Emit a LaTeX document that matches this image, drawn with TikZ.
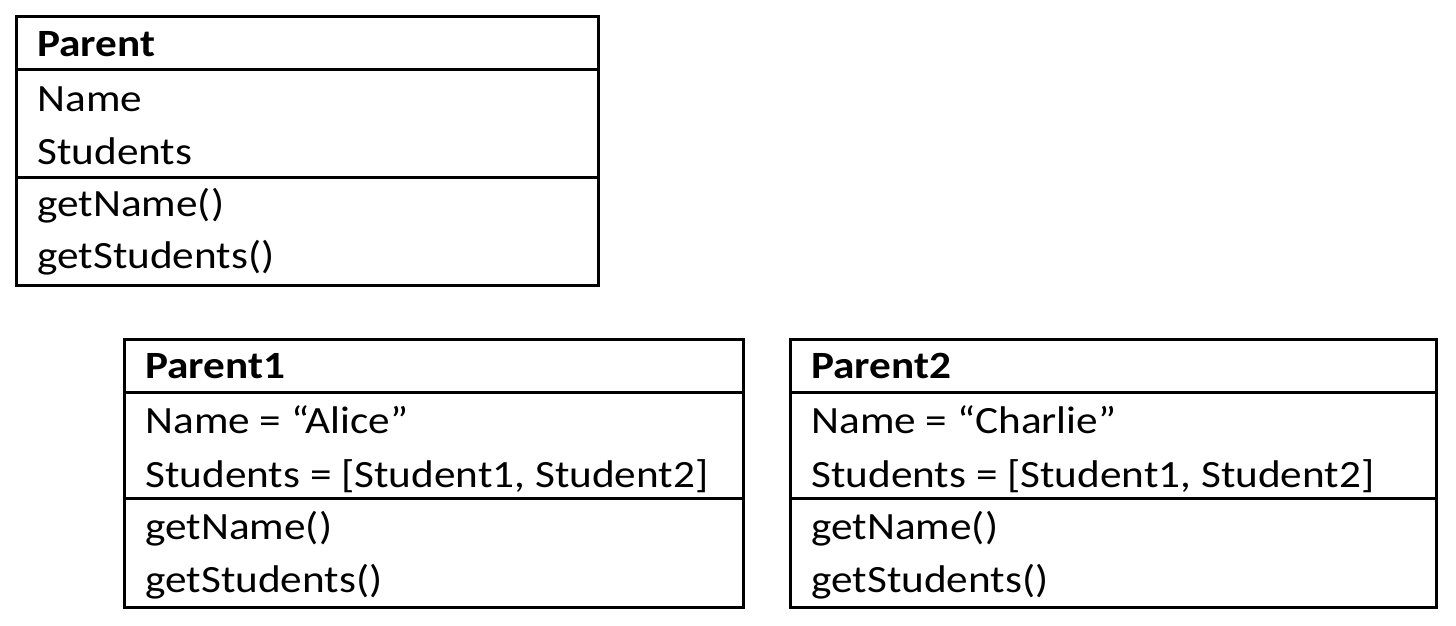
\documentclass[tikz,border=0pt]{standalone}
\usepackage{fontspec}
\setmainfont{Carlito}[FakeStretch=1.12]
\begin{document}
\begin{tikzpicture}[x=0.5pt,y=-0.5pt,
  umlbox/.style={draw=black, line width=1.5pt, rectangle, inner sep=0pt, anchor=north west},
  sepline/.style={draw=black, line width=1.5pt},
  txt/.style={anchor=base west, inner sep=0pt, font=\fontsize{19.3pt}{23pt}\selectfont},
  ttl/.style={txt, font=\fontsize{19.3pt}{23pt}\selectfont\bfseries}]
\useasboundingbox (0,0) rectangle (1456,626);
% Parent class
\node[umlbox, minimum width=291pt, minimum height=134.5pt] (parent) at (15,15) {};
\draw[sepline] (parent.west |- 0,70) -- (parent.east |- 0,70);
\draw[sepline] (parent.west |- 0,177) -- (parent.east |- 0,177);
\node[ttl] (pT) at (37,57) {Parent};
\node[txt] (pA1) at (37,112) {Name};
\node[txt] (pA2) at (37,164) {Students};
\node[txt] (pM1) at (37,216) {getName()};
\node[txt] (pM2) at (37,268) {getStudents()};
% Parent1
\node[umlbox, minimum width=309.5pt, minimum height=134pt] (parentA) at (123,338) {};
\draw[sepline] (parentA.west |- 0,392) -- (parentA.east |- 0,392);
\draw[sepline] (parentA.west |- 0,498) -- (parentA.east |- 0,498);
\node[ttl] (aT) at (145,378) {Parent1};
\node[txt] (aA1) at (145,433) {Name = “Alice”};
\node[txt] (aA2) at (145,487) {Students = [Student1, Student2]};
\node[txt] (aM1) at (145,539) {getName()};
\node[txt] (aM2) at (145,592) {getStudents()};
% Parent2
\node[umlbox, minimum width=323pt, minimum height=134pt] (parentB) at (789,338) {};
\draw[sepline] (parentB.west |- 0,392) -- (parentB.east |- 0,392);
\draw[sepline] (parentB.west |- 0,498) -- (parentB.east |- 0,498);
\node[ttl] (bT) at (811,378) {Parent2};
\node[txt] (bA1) at (811,433) {Name = “Charlie”};
\node[txt] (bA2) at (811,487) {Students = [Student1, Student2]};
\node[txt] (bM1) at (811,539) {getName()};
\node[txt] (bM2) at (811,592) {getStudents()};
\end{tikzpicture}
\end{document}
